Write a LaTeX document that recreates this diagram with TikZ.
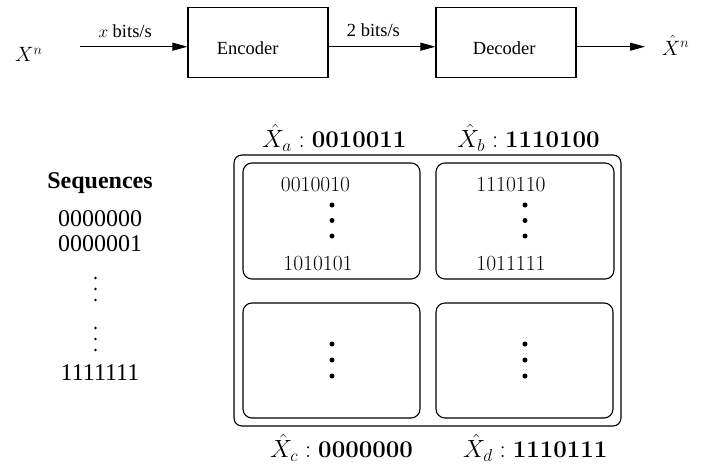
\documentclass[tikz,border=0pt]{standalone}
\usepackage{fontspec}
\newfontfamily\tnr{Liberation Serif}
\usetikzlibrary{arrows.meta}
\begin{document}
\begin{tikzpicture}[x=1pt,y=-1pt,
  blk/.style={draw,line width=1.1pt,minimum width=140pt,minimum height=70pt,inner sep=0pt},
  rbox/.style={draw,line width=1.1pt,rounded corners=9pt,inner sep=0pt},
  arr/.style={line width=1pt,-{Triangle[length=15pt,width=8pt]}},
  toplbl/.style={font=\tnr\fontsize{18.5}{22}\selectfont,inner sep=0pt,anchor=base west},
  mlbl/.style={font=\fontsize{21}{25}\selectfont,inner sep=0pt,anchor=base west},
  seq/.style={font=\tnr\fontsize{24}{28}\selectfont,inner sep=0pt,anchor=base},
  bin/.style={font=\fontsize{21.5}{25}\selectfont,inner sep=0pt,anchor=base},
  cw/.style={font=\fontsize{24}{28}\selectfont,inner sep=0pt,anchor=base west},
  bigdot/.style={circle,fill,inner sep=0pt,minimum size=5pt},
  smalldot/.style={circle,fill,inner sep=0pt,minimum size=2.7pt}]
\useasboundingbox (0,0) rectangle (703,466);
% top chain
\node[mlbl] (xn) at (15,61.7) {$X^n$};
\node[blk] (enc) at (258,42.3) {};
\node[blk] (dec) at (506,42.3) {};
\node[toplbl] (enct) at (216.7,54) {Encoder};
\node[toplbl] (dect) at (472.7,54) {Decoder};
\node[mlbl] (xhn) at (661.7,55) {$\hat{X}^n$};
\coordinate (a1) at (80,46.7);
\coordinate (a3) at (645,46.7);
\draw[arr] (a1) -- (a1 -| enc.west);
\draw[arr] (enc.east |- a1) -- (dec.west |- a1);
\draw[arr] (dec.east |- a1) -- (a3);
\node[toplbl] (r1) at (98.3,37.3) {$x$ bits/s};
\node[toplbl] (r2) at (346.7,36.7) {2 bits/s};
% sequences column
\node[seq,font=\tnr\bfseries\fontsize{24}{28}\selectfont] (sq) at (100,188) {Sequences};
\node[seq] (s0) at (100,226) {0000000};
\node[seq] (s1) at (100,251.7) {0000001};
\node[seq] (s7) at (100,380.7) {1111111};
\foreach \yy [count=\i] in {278,289,300,328,339,350}
  \node[smalldot] (sd\i) at (95.5,\yy) {};
% partition
\node[rbox,rounded corners=8pt,minimum width=387pt,minimum height=271pt] (outer) at (427.5,290.5) {};
\node[rbox,minimum width=177pt,minimum height=116pt] (ba) at (331.5,221) {};
\node[rbox,minimum width=178pt,minimum height=116pt] (bb) at (525,221) {};
\node[rbox,minimum width=177pt,minimum height=115pt] (bc) at (331.5,360.5) {};
\node[rbox,minimum width=177pt,minimum height=115pt] (bd) at (524.5,360.5) {};
\node[bin] (a0) at (315.5,191.7) {0010010};
\node[bin] (a1t) at (318,270.7) {1010101};
\node[bin] (b0) at (511,191.7) {1110110};
\node[bin] (b1) at (511,270.7) {1011111};
\foreach \yy [count=\i] in {205,220.5,236} {
  \node[bigdot] (da\i) at (332,\yy) {};
  \node[bigdot] (db\i) at (525,\yy) {};
}
\foreach \yy [count=\i] in {344,360,376} {
  \node[bigdot] (dc\i) at (332,\yy) {};
  \node[bigdot] (dd\i) at (525,\yy) {};
}
\node[cw] (la) at (262,147.5) {$\hat{X}_a :{}$\textbf{0010011}};
\node[cw] (lb) at (457,147.5) {$\hat{X}_b :{}$\textbf{1110100}};
\node[cw] (lc) at (270,457.5) {$\hat{X}_c :{}$\textbf{0000000}};
\node[cw] (ld) at (463,457.5) {$\hat{X}_d :{}$\textbf{1110111}};
\end{tikzpicture}
\end{document}
